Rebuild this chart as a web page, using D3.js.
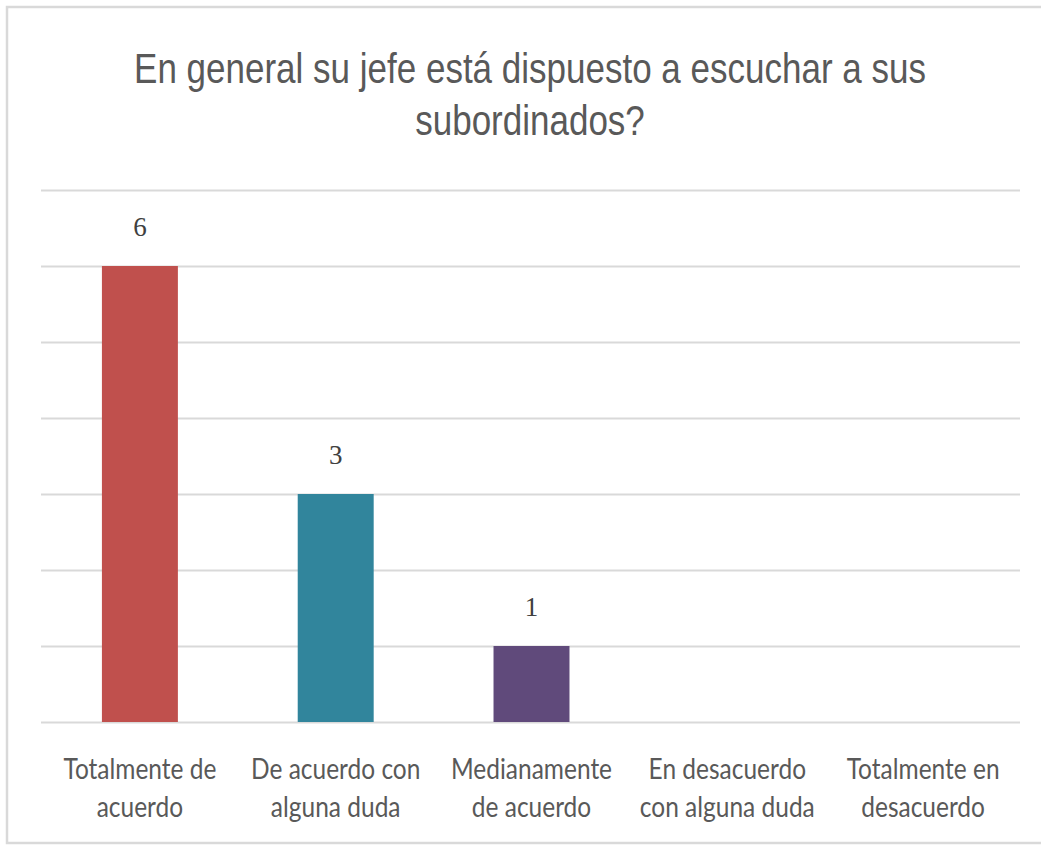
<!DOCTYPE html>
<html>
<head>
<meta charset="utf-8">
<script src="https://cdn.jsdelivr.net/npm/d3@7"></script>
<style>
  html, body { margin: 0; padding: 0; background: #ffffff; }
  svg { display: block; }
</style>
</head>
<body>
<script>
// Survey answers and counts
const categories = [
  ["Totalmente de", "acuerdo"],
  ["De acuerdo con", "alguna duda"],
  ["Medianamente", "de acuerdo"],
  ["En desacuerdo", "con alguna duda"],
  ["Totalmente en", "desacuerdo"]
];
const values = [6, 3, 1, 0, 0];
const colors = ["#c0504d", "#31859c", "#604a7b", "#4f81bd", "#9bbb59"];
const gridTicks = [0, 1, 2, 3, 4, 5, 6, 7];
const titleLines = ["En general su jefe está dispuesto a escuchar a sus", "subordinados?"];

const W = 1041, H = 846;
const svg = d3.select("body").append("svg").attr("width", W).attr("height", H);

// chart frame
svg.append("rect")
  .attr("x", 7).attr("y", 7)
  .attr("width", W + 10).attr("height", H - 10)
  .attr("fill", "#ffffff")
  .attr("stroke", "#d9d9d9").attr("stroke-width", 2.5);

const x = d3.scaleBand()
  .domain(d3.range(categories.length))
  .range([42, 1021])
  .paddingInner(0.612)
  .paddingOuter(0.306);

const y = d3.scaleLinear().domain([0, 7]).range([722, 190]);

// horizontal gridlines
svg.append("g")
  .attr("transform", "translate(41,0)")
  .call(d3.axisLeft(y).tickValues(gridTicks).tickSize(-979).tickFormat(""))
  .call(g => g.select(".domain").remove())
  .call(g => g.selectAll("line").attr("stroke", "#d9d9d9").attr("stroke-width", 2));

// bars
svg.append("g").selectAll("rect")
  .data(values)
  .join("rect")
  .attr("x", (d, i) => x(i))
  .attr("y", d => y(d))
  .attr("width", x.bandwidth())
  .attr("height", d => y(0) - y(d))
  .attr("fill", (d, i) => colors[i])
  .attr("display", d => d > 0 ? null : "none");

// value labels
svg.append("g").selectAll("text")
  .data(values)
  .join("text")
  .filter(d => d > 0)
  .attr("x", (d, i) => x(i) + x.bandwidth() / 2)
  .attr("y", d => y(d) - 30)
  .attr("text-anchor", "middle")
  .attr("font-family", "'Liberation Serif', serif")
  .attr("font-size", 27)
  .attr("fill", "#404040")
  .text(d => d);

// title, narrowed horizontally
const titleG = svg.append("g").attr("transform", "translate(530,0)");
const t1 = titleG.append("text")
  .attr("font-family", "'Liberation Sans', Arial, sans-serif")
  .attr("font-size", 42)
  .text(titleLines[0]);
const tScale = 792 / t1.node().getComputedTextLength();
t1.remove();
titleLines.forEach((line, i) => {
  titleG.append("text")
    .attr("text-anchor", "middle")
    .attr("transform", `translate(0,${83 + i * 52}) scale(${tScale},1)`)
    .attr("font-family", "'Liberation Sans', Arial, sans-serif")
    .attr("font-size", 42)
    .attr("fill", "#595959")
    .text(line);
});

// category labels under the axis, narrowed horizontally
const probe = svg.append("text")
  .attr("font-family", "Lato, sans-serif")
  .attr("font-size", 28)
  .text(categories[0][0]);
const lScale = 153 / probe.node().getComputedTextLength();
probe.remove();

const labels = svg.append("g").selectAll("g")
  .data(categories)
  .join("g")
  .attr("transform", (d, i) => `translate(${x(i) + x.bandwidth() / 2},0)`);

labels.each(function (lines) {
  const g = d3.select(this);
  lines.forEach((line, j) => {
    g.append("text")
      .attr("text-anchor", "middle")
      .attr("transform", `translate(0,${779 + j * 38}) scale(${lScale},1)`)
      .attr("font-family", "Lato, sans-serif")
      .attr("font-size", 28)
      .attr("fill", "#595959")
      .text(line);
  });
});
</script>
</body>
</html>
